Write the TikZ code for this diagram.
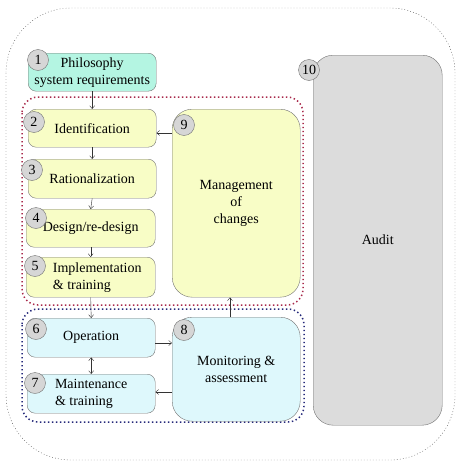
\documentclass[tikz,border=0pt]{standalone}
\usepackage{fontspec}
\setmainfont{Liberation Serif}[Ligatures=TeX]
\usepackage{xcolor}
\usetikzlibrary{arrows.meta,positioning}
\definecolor{philfill}{HTML}{B4F5E2}
\definecolor{loopfill}{HTML}{F8FDC6}
\definecolor{opfill}{HTML}{DEF8FC}
\definecolor{auditfill}{HTML}{DCDCDC}
\definecolor{redloop}{HTML}{A8284A}
\definecolor{blueloop}{HTML}{24287A}

\begin{document}
\begin{tikzpicture}[
  x=1pt,y=-1pt,
  every node/.style={font=\rmfamily\fontsize{14}{17}\selectfont,align=center},
  box/.style={draw=black!55,rounded corners=8pt,inner sep=0pt,
              anchor=north west,minimum width=128pt,minimum height=38pt},
  phil/.style={box,fill=philfill},
  stage/.style={box,fill=loopfill},
  oper/.style={box,fill=opfill},
  bigbox/.style={box,rounded corners=20pt},
  num/.style={circle,draw=black!55,fill=black!16,inner sep=0pt,
              minimum size=21pt},
  flow/.style={-{Straight Barb[length=3pt,width=5pt]},black!80},
  both/.style={{Straight Barb[length=3pt,width=5pt]}-{Straight Barb[length=3pt,width=5pt]},black!80}
]
\useasboundingbox (0,0) rectangle (461,463);
% enclosing loops
\draw[black!75,dash pattern=on 0.8pt off 2.2pt,rounded corners=65pt] (6,8) rectangle (455,460);
\draw[redloop,dash pattern=on 1.4pt off 2.6pt,line width=1.5pt,rounded corners=16pt] (22,97) rectangle (303,305);
\draw[blueloop,dash pattern=on 1.4pt off 2.6pt,line width=1.5pt,rounded corners=16pt] (22,309) rectangle (304,422);
% stages
\node[phil] (phil) at (28,53) {Philosophy\\system requirements};
\node[stage] (ident) at (28,109) {Identification};
\node[stage,minimum height=39pt] (ration) at (28,159) {Rationalization};
\node[stage,minimum width=129pt] (design) at (26,209) {Design/re-design};
\node[stage,minimum width=129pt,minimum height=40pt,align=left] (implem) at (26,257)
  {\hspace*{13pt}Implementation\\\hspace*{13pt}\& training};
\node[oper,minimum height=39pt] (operat) at (27,318) {Operation};
\node[oper,minimum height=39pt,align=left] (maint) at (27,374) {Maintenance\\\& training};
\node[bigbox,fill=loopfill,minimum height=188pt] (manage) at (172,109)
  {Management\\of\\changes};
\node[bigbox,fill=opfill,minimum height=104pt] (monit) at (172,317)
  {Monitoring \&\\assessment};
\node[bigbox,fill=auditfill,minimum width=129pt,minimum height=370pt] (audit) at (313,55)
  {Audit};
% numbers
\node[num] (n1) at (38,60) {1};
\node[num] (n2) at (34,122) {2};
\node[num] (n3) at (32,170) {3};
\node[num] (n4) at (36,218) {4};
\node[num] (n5) at (35,266) {5};
\node[num] (n6) at (36,329) {6};
\node[num] (n7) at (35,383) {7};
\node[num] (n8) at (184,330) {8};
\node[num] (n9) at (184,125) {9};
\node[num] (n10) at (309,70) {10};
% connectors
\draw[flow] (phil.south) -- (ident.north);
\draw[flow] (ident.south) -- (ration.north);
\draw[flow] (ration.south) -- (design.north);
\draw[flow] (design.south) -- (implem.north);
\draw[flow] (implem.south) -- (operat.north);
\draw[both] (operat.south) -- (maint.north);
\draw[flow] (operat.east |- 0,343) -- (monit.west |- 0,343);
\draw[flow] (monit.west |- 0,392) -- (maint.east |- 0,392);
\draw[flow] (monit.north -| 230,0) -- (manage.south -| 230,0);
\draw[flow] (manage.west |- 0,133) -- (ident.east |- 0,133);
\end{tikzpicture}
\end{document}
